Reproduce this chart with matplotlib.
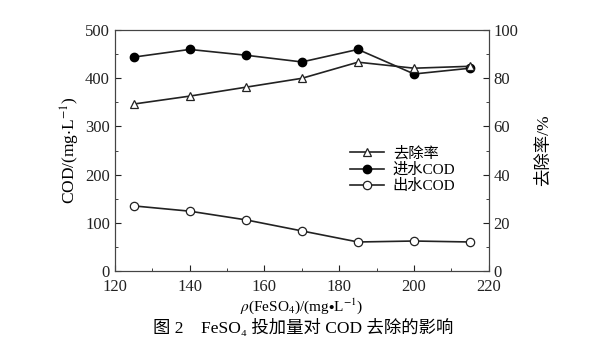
import matplotlib.pyplot as plt
from matplotlib.ticker import MultipleLocator

plt.rcParams['font.family'] = ['Liberation Serif', 'Noto Sans CJK SC', 'DejaVu Sans']
plt.rcParams['mathtext.fontset'] = 'stix'

# 数据
dose = [125, 140, 155, 170, 185, 200, 215]
cod_in = [444, 460, 448, 434, 460, 409, 421]
cod_out = [135, 124, 106, 83, 60, 62, 60]
removal = [69.3, 72.6, 76.3, 80.0, 86.7, 84.2, 85.0]

fig = plt.figure(figsize=(5.89, 3.55), dpi=100)
ax = fig.add_axes([0.195, 0.237, 0.635, 0.678])
ax2 = ax.twinx()

l1, = ax2.plot(dose, removal, color='#222222', lw=1.2, marker='^', ms=6,
               mfc='white', mec='#222222', mew=0.9, label='去除率')
l2, = ax.plot(dose, cod_in, color='#222222', lw=1.2, marker='o', ms=6,
              mfc='black', mec='black', label='进水COD')
l3, = ax.plot(dose, cod_out, color='#222222', lw=1.2, marker='o', ms=6,
              mfc='white', mec='#222222', mew=0.9, label='出水COD')

ax.set_xlim(120, 220)
ax.set_ylim(0, 500)
ax2.set_ylim(0, 100)
ax.xaxis.set_major_locator(MultipleLocator(20))
ax.xaxis.set_minor_locator(MultipleLocator(10))
ax.yaxis.set_major_locator(MultipleLocator(100))
ax.yaxis.set_minor_locator(MultipleLocator(50))
ax2.yaxis.set_major_locator(MultipleLocator(20))
ax2.yaxis.set_minor_locator(MultipleLocator(10))

for a in (ax, ax2):
    a.tick_params(which='both', direction='in', labelsize=12, colors='#222222')
    a.tick_params(which='major', length=4)
    a.tick_params(which='minor', length=2.5)
    for s in a.spines.values():
        s.set_color('#444444')
        s.set_linewidth(0.8)
ax.tick_params(axis='x', pad=6)

ax.set_ylabel('COD/(mg$\\cdot$L$^{-1}$)', fontsize=12.5, labelpad=2)
ax2.set_ylabel('去除率/%', fontsize=12.5, labelpad=12)
ax.set_xlabel('$\\rho$(FeSO$_4$)/(mg$\\bullet$L$^{-1}$)', fontsize=11, labelpad=1)

ax.legend(handles=[l1, l2, l3], loc='center left', bbox_to_anchor=(0.6, 0.42),
          frameon=False, fontsize=11, handlelength=2.2, handletextpad=0.6,
          labelspacing=0.15, borderpad=0.2)

fig.text(0.515, 0.075, '图 2    FeSO\u2084 投加量对 COD 去除的影响', ha='center',
         va='center', fontsize=12.5)

fig.savefig('out.png', dpi=100)
